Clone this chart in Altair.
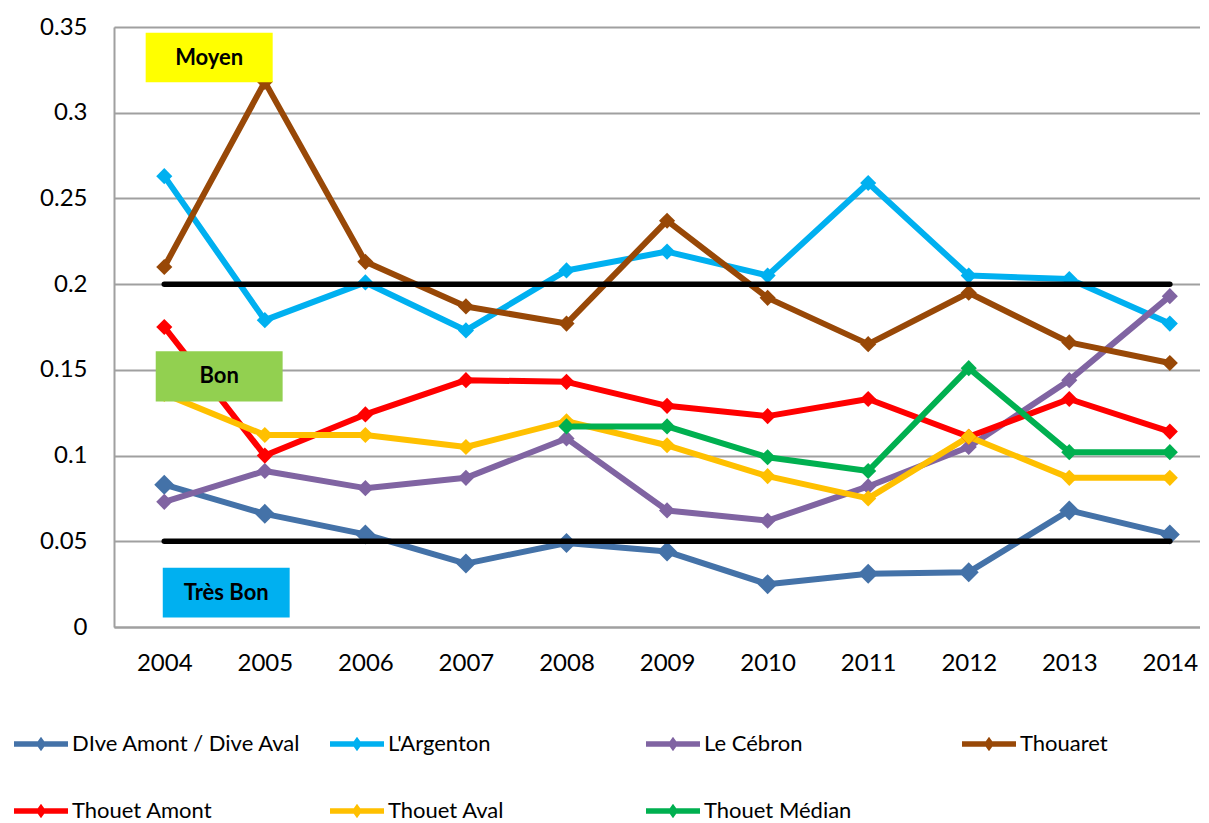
import altair as alt
import pandas as pd

# ---- data ----
years = list(range(2004, 2015))
series_names = ["DIve Amont / Dive Aval", "L'Argenton", "Le Cébron", "Thouaret",
                "Thouet Amont", "Thouet Aval", "Thouet Médian"]
series_colors = ["#4472A8", "#00B0F0", "#8064A2", "#984807",
                 "#FF0000", "#FFC000", "#00B050"]

dive = [0.083, 0.066, 0.054, 0.037, 0.049, 0.044, 0.025, 0.031, 0.032, 0.068, 0.054]
argenton = [0.263, 0.179, 0.201, 0.173, 0.208, 0.219, 0.205, 0.259, 0.205, 0.203, 0.177]
cebron = [0.073, 0.091, 0.081, 0.087, 0.110, 0.068, 0.062, 0.082, 0.105, 0.144, 0.193]
thouaret = [0.210, 0.318, 0.213, 0.187, 0.177, 0.237, 0.192, 0.165, 0.195, 0.166, 0.154]
thouet_amont = [0.175, 0.100, 0.124, 0.144, 0.143, 0.129, 0.123, 0.133, 0.111, 0.133, 0.114]
thouet_aval = [0.136, 0.112, 0.112, 0.105, 0.120, 0.106, 0.088, 0.075, 0.111, 0.087, 0.087]
thouet_median = [None, None, None, None, 0.117, 0.117, 0.099, 0.091, 0.151, 0.102, 0.102]

thresholds = [0.05, 0.2]
threshold_start = 2004
threshold_end = 2014

class_labels = ["Moyen", "Bon", "Très Bon"]
class_colors = ["#FFFF00", "#92D050", "#00B0F0"]
# annotation boxes (data coordinates: year, value)
box_x1 = [2003.815, 2003.915, 2003.985]
box_x2 = [2005.078, 2005.177, 2005.247]
box_y1 = [0.3467, 0.1608, 0.0346]
box_y2 = [0.3177, 0.1316, 0.0056]

FONT = "Lato"

# ---- tables ----
all_series = [dive, argenton, cebron, thouaret, thouet_amont, thouet_aval, thouet_median]
rows = []
for name, vals in zip(series_names, all_series):
    for y, v in zip(years, vals):
        if v is not None:
            rows.append({"year": y, "value": v, "serie": name})
df = pd.DataFrame(rows)

thr_df = pd.DataFrame({"value": thresholds, "x1": threshold_start, "x2": threshold_end})
box_df = pd.DataFrame({"label": class_labels, "fill": class_colors,
                       "x1": box_x1, "x2": box_x2, "y1": box_y1, "y2": box_y2})
box_df["xc"] = (box_df["x1"] + box_df["x2"]) / 2
box_df["yc"] = (box_df["y1"] + box_df["y2"]) / 2

x_scale = alt.Scale(domain=[2003.5, 2014.3], nice=False, zero=False)
y_scale = alt.Scale(domain=[0, 0.35], nice=False)
color_scale = alt.Scale(domain=series_names, range=series_colors)

legend_symbol = ("M-1,-0.1L1,-0.1L1,0.1L-1,0.1Z "
                 "M0,-0.27L0.19,0L0,0.27L-0.19,0Z")

legend = alt.Legend(orient="none", legendX=-100, legendY=690,
                    direction="horizontal", columns=4, title=None,
                    symbolType=legend_symbol, symbolSize=2916,
                    symbolStrokeWidth=0, symbolOpacity=1,
                    labelFont=FONT, labelFontSize=22,
                    labelColor="#000000", labelOffset=4,
                    columnPadding=29, rowPadding=29,
                    gridAlign="all", labelLimit=400)

x_enc = alt.X("year:Q", scale=x_scale,
              axis=alt.Axis(values=years, format="d", title=None, grid=False,
                            ticks=False, labelFontSize=24, labelFont=FONT,
                            labelColor="#000000", labelPadding=24,
                            domainColor="#A0A0A0", domainWidth=2))
y_enc = alt.Y("value:Q", scale=y_scale,
              axis=alt.Axis(values=[0, 0.05, 0.1, 0.15, 0.2, 0.25, 0.3, 0.35],
                            format=".2~f", title=None, grid=True,
                            gridColor="#A0A0A0", gridWidth=2, ticks=False,
                            labelFontSize=24, labelFont=FONT, labelColor="#000000",
                            labelPadding=27, domainColor="#A0A0A0", domainWidth=2))

lines = alt.Chart(df).mark_line(strokeWidth=6, strokeJoin="round").encode(
    x=x_enc, y=y_enc,
    color=alt.Color("serie:N", scale=color_scale, legend=legend),
    order=alt.Order("year:Q"),
)

points = alt.Chart(df).mark_point(shape="diamond", filled=True, opacity=1).encode(
    x="year:Q", y="value:Q",
    color=alt.Color("serie:N", scale=color_scale, legend=legend),
    size=alt.condition(alt.datum.serie == series_names[0], alt.value(400), alt.value(260)),
)

thr = alt.Chart(thr_df).mark_rule(color="#000000", strokeWidth=5.5, strokeCap="round").encode(
    x="x1:Q", x2="x2:Q", y="value:Q")

boxes = alt.Chart(box_df).mark_rect().encode(
    x="x1:Q", x2="x2:Q", y="y1:Q", y2="y2:Q",
    fill=alt.Fill("fill:N", scale=None))

box_text = alt.Chart(box_df).mark_text(font=FONT, fontSize=22, fontWeight="bold",
                                       color="#000000").encode(
    x="xc:Q", y="yc:Q", text="label:N")

chart = alt.layer(lines, points, thr, boxes, box_text).properties(
    width=1086, height=600,
    autosize=alt.AutoSizeParams(type="none"),
    padding={"left": 106, "top": 19, "right": 0, "bottom": 206},
).configure_view(stroke=None).configure(background="#FFFFFF")

chart.save("out.html", embed_options={"renderer": "svg", "actions": False})
